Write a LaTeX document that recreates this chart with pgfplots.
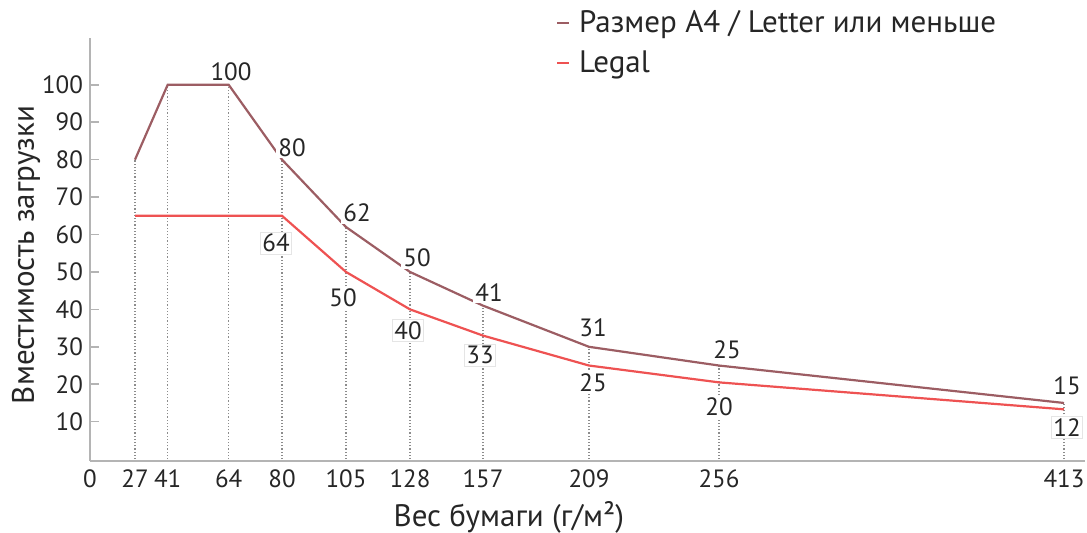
\documentclass[border=0pt]{standalone}
\usepackage{fontspec}
\setmainfont{PT Sans}
\usepackage{pgfplots}
\pgfplotsset{compat=1.18}
\definecolor{afour}{HTML}{9C5D63}
\definecolor{legal}{HTML}{EE5252}
\definecolor{axgray}{HTML}{B4B4B4}
\begin{document}
\begin{tikzpicture}
\begin{axis}[
  scale only axis, width=497.5pt, height=211.5pt,
  xmin=90, xmax=1085, ymin=-0.5, ymax=112.5,
  axis x line=bottom, axis y line=left,
  axis line style={axgray, line width=1pt, -},
  xtick={90,135,167.7,228.7,282,346,410,483,589,719,1064},
  xticklabels={0,27,41,64,80,105,128,157,209,256,413},
  ytick={10,20,30,40,50,60,70,80,90,100},
  tick align=inside,
  major tick length=4.5pt,
  ytick style={axgray, line width=0.8pt},
  xtick style={draw=none},
  tick label style={font=\fontsize{12.5}{14}\selectfont, text=black!85},
  xticklabel style={yshift=-1pt},
  /pgf/number format/assume math mode=true,
  xlabel={Вес бумаги (г/м²)},
  ylabel={Вместимость загрузки},
  label style={font=\fontsize{15.5}{18}\selectfont, text=black!85},
  xlabel style={at={(axis description cs:0.421,-0.1325)}, anchor=center},
  ylabel style={at={(axis description cs:-0.0643,0.487)}, anchor=center},
  legend style={at={(axis description cs:0.468,1)}, anchor=north west, yshift=16pt,
    draw=none, fill=none, font=\fontsize{15.5}{18}\selectfont, text=black!85,
    row sep=3.5pt, inner sep=0pt},
  legend cell align=left,
  legend image code/.code={\draw[#1, line width=1pt] (0pt,0pt) -- (6pt,0pt); \path (8.5pt,0pt);},
  clip=false,
]
% dotted guide lines
\addplot[ycomb, densely dotted, black!45, line width=0.6pt, forget plot] coordinates {
  (135,80) (167.7,100) (228.7,100) (282,80) (346,62) (410,50) (483,41) (589,30) (719,25) (1064,15)
};
\addplot[afour, line width=1.1pt] coordinates {
  (135,80) (167.7,100) (228.7,100) (282,80) (346,62) (410,50) (483,41) (589,30) (719,25) (1064,15)
};
\addlegendentry{Размер A4 / Letter или меньше}
\addplot[legal, line width=1.1pt] coordinates {
  (135,65) (167.7,65) (228.7,65) (282,65) (346,50) (410,40) (483,33) (589,25) (719,20.5) (1064,13.3)
};
\addlegendentry{Legal}
% value labels
\begin{scope}[every node/.style={font=\fontsize{12.5}{14}\selectfont, text=black!85, fill=white, inner sep=1pt}]
\node at (axis cs:231,103.6) {100};
\node at (axis cs:292,83.3) {80};
\node at (axis cs:357,65.7) {62};
\node at (axis cs:417,53.7) {50};
\node at (axis cs:489,44.6) {41};
\node at (axis cs:593,35.0) {31};
\node at (axis cs:727,29.1) {25};
\node at (axis cs:1067,19.7) {15};
\node[draw=black!10] at (axis cs:276,57.7) {64};
\node at (axis cs:343,43.0) {50};
\node[draw=black!10] at (axis cs:408,34.4) {40};
\node[draw=black!10] at (axis cs:480,27.8) {33};
\node at (axis cs:593,20.3) {25};
\node at (axis cs:719,13.9) {20};
\node[draw=black!10] at (axis cs:1067,8.5) {12};
\end{scope}
\coordinate (bl) at (rel axis cs:0,0);
\coordinate (tr) at (rel axis cs:1,1);
\end{axis}
\pgfresetboundingbox
\path[use as bounding box] ([xshift=-45pt,yshift=-36pt]bl) rectangle ([xshift=1pt,yshift=19pt]tr);
\end{tikzpicture}
\end{document}
